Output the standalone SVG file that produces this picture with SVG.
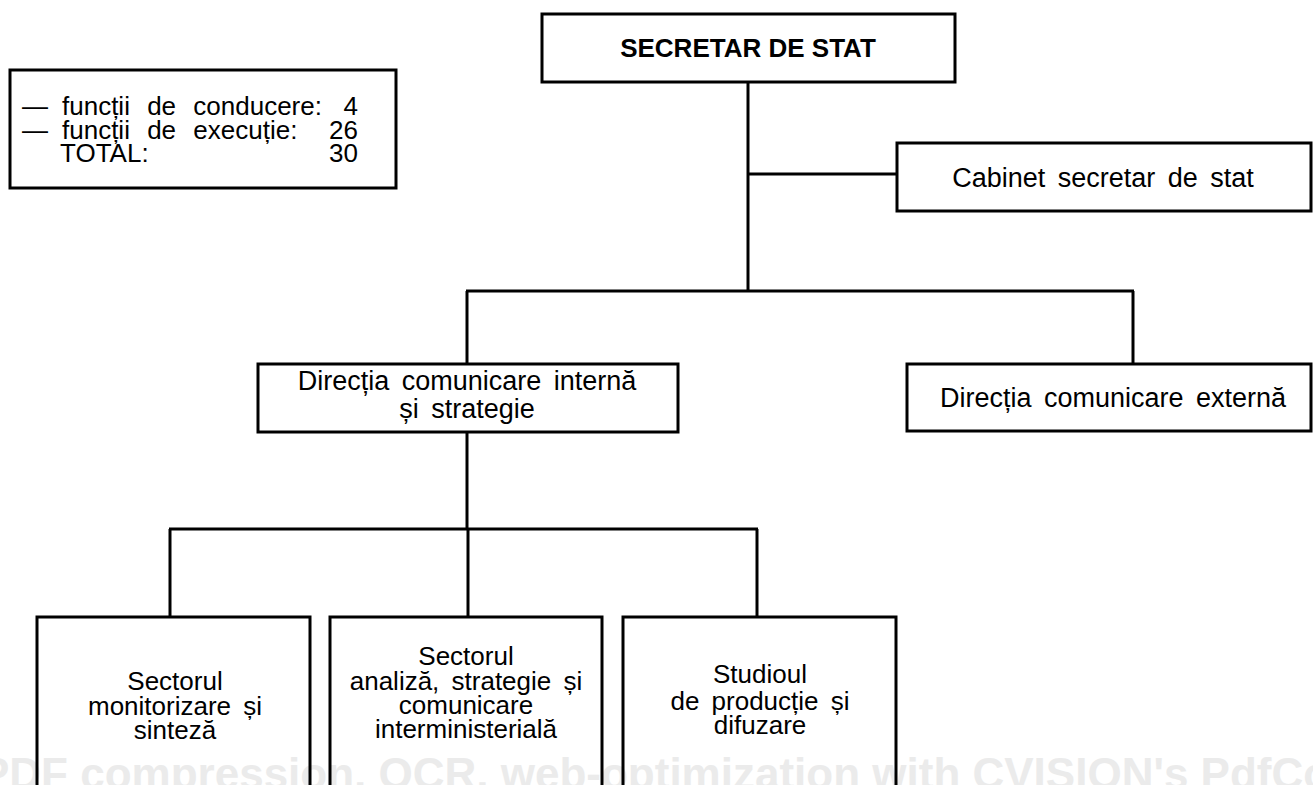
<svg xmlns="http://www.w3.org/2000/svg" width="1313" height="785" viewBox="0 0 1313 785">
<style>
.box{fill:none;stroke:#000;stroke-width:3}
.ln{fill:none;stroke:#000;stroke-width:3}
.t{font-family:"Liberation Sans",Arial,sans-serif;font-size:26px;fill:#000;text-anchor:middle;word-spacing:5px}
.m{font-size:27px}
.l{font-family:"Liberation Sans",Arial,sans-serif;font-size:26px;fill:#000;word-spacing:10px}
.e{text-anchor:end}
.b{font-weight:bold;font-size:26px;word-spacing:0}
.wm{font-family:"Liberation Sans",Arial,sans-serif;font-size:44px;font-weight:bold;fill:#ebebeb}
</style>
<rect x="0" y="0" width="1313" height="785" fill="#fff"/>
<text class="wm" x="-20" y="789">PDF compression, OCR, web-optimization with CVISION's PdfCompressor</text>
<g id="legend">
<rect class="box" x="10" y="70" width="386" height="118"/>
<text class="l" x="22" y="115">—</text>
<text class="l" x="62" y="115">funcții de conducere:</text>
<text class="l e" x="358" y="115">4</text>
<text class="l" x="22" y="139">—</text>
<text class="l" x="62" y="139">funcții de execuție:</text>
<text class="l e" x="358" y="139">26</text>
<text class="l" x="60" y="162">TOTAL:</text>
<text class="l e" x="358" y="162">30</text>
</g>
<g id="connectors">
<path class="ln" d="M748 82V292"/>
<path class="ln" d="M748 174H897"/>
<path class="ln" d="M466 291H1134"/>
<path class="ln" d="M467 291V364"/>
<path class="ln" d="M1133 291V364"/>
<path class="ln" d="M467 432V529"/>
<path class="ln" d="M169 529H758"/>
<path class="ln" d="M170 529V617"/>
<path class="ln" d="M468 529V617"/>
<path class="ln" d="M757 529V617"/>
</g>
<g id="secretar">
<rect class="box" x="542" y="14" width="413" height="68"/>
<text class="t b" x="748" y="57">SECRETAR DE STAT</text>
</g>
<g id="cabinet">
<rect class="box" x="897" y="143" width="414" height="68"/>
<text class="t m" x="1103" y="187">Cabinet secretar de stat</text>
</g>
<g id="dir-interna">
<rect class="box" x="258" y="364" width="420" height="68"/>
<text class="t m" x="467" y="390">Direcția comunicare internă</text>
<text class="t m" x="467" y="418">și strategie</text>
</g>
<g id="dir-externa">
<rect class="box" x="907" y="364" width="404" height="67"/>
<text class="t m" x="1113" y="407">Direcția comunicare externă</text>
</g>
<g id="sector-monitorizare">
<rect class="box" x="37" y="617" width="273" height="200"/>
<text class="t" x="175" y="690">Sectorul</text>
<text class="t" x="175" y="715">monitorizare și</text>
<text class="t" x="175" y="739">sinteză</text>
</g>
<g id="sector-analiza">
<rect class="box" x="330" y="617" width="272" height="200"/>
<text class="t" x="466" y="665">Sectorul</text>
<text class="t" x="466" y="690">analiză, strategie și</text>
<text class="t" x="466" y="714">comunicare</text>
<text class="t" x="466" y="738">interministerială</text>
</g>
<g id="studioul">
<rect class="box" x="623" y="617" width="273" height="200"/>
<text class="t" x="760" y="683">Studioul</text>
<text class="t" x="760" y="710">de producție și</text>
<text class="t" x="760" y="734">difuzare</text>
</g>
</svg>
